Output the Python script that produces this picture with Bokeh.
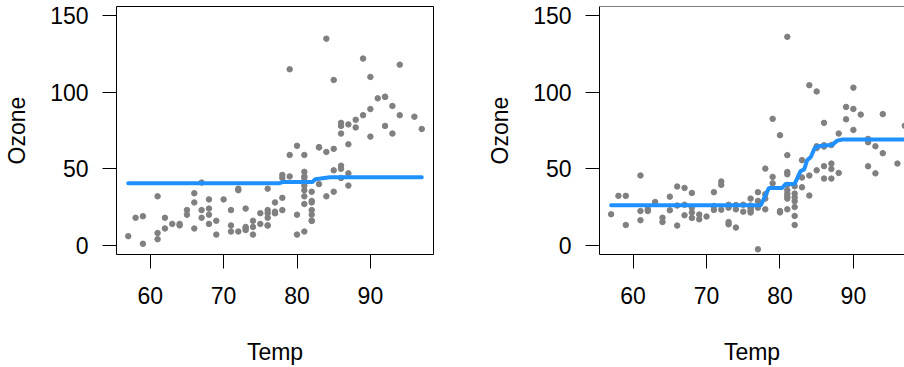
from bokeh.plotting import figure
from bokeh.layouts import row
from bokeh.models import FixedTicker, Span, Range1d
from bokeh.embed import file_html
from bokeh.resources import INLINE

# ---- left panel: observed Ozone vs Temp ----
TEMP = [67, 72, 74, 62, 66, 65, 59, 61, 74, 69, 66, 68, 58, 64, 66, 57, 68, 62, 59, 73,
        61, 61, 67, 81, 79, 76, 82, 90, 87, 82, 77, 72, 65, 73, 76, 84, 85, 81, 83, 83,
        88, 92, 92, 89, 73, 81, 80, 81, 82, 84, 87, 85, 74, 86, 85, 82, 86, 88, 86, 83,
        81, 81, 81, 82, 86, 85, 87, 89, 90, 90, 86, 82, 80, 77, 79, 76, 78, 78, 77, 72,
        79, 81, 86, 97, 94, 96, 94, 91, 92, 93, 93, 87, 84, 80, 78, 75, 73, 81, 76, 77,
        71, 71, 78, 67, 76, 68, 82, 64, 71, 81, 69, 63, 70, 75, 76, 68]
OZONE = [41, 36, 12, 18, 28, 23, 19, 8, 7, 16, 11, 14, 18, 14, 34, 6, 30, 11, 1, 11,
         4, 32, 23, 45, 115, 37, 29, 71, 39, 23, 21, 37, 20, 12, 13, 135, 49, 32, 64, 40,
         77, 97, 97, 85, 10, 27, 7, 48, 35, 61, 79, 63, 16, 80, 108, 20, 52, 82, 50, 64,
         59, 39, 9, 16, 78, 35, 66, 122, 89, 110, 44, 28, 65, 22, 59, 23, 31, 44, 21, 9,
         45, 168, 73, 76, 118, 84, 85, 96, 78, 73, 91, 47, 32, 20, 23, 21, 24, 44, 21, 28,
         9, 13, 46, 18, 13, 24, 16, 13, 23, 36, 7, 14, 30, 14, 18, 20]
FIT_A_TEMP = [57, 77.5, 78.2, 82.1, 82.5, 83.2, 84.5, 97]
FIT_A_OZONE = [40.5, 40.5, 41.4, 41.4, 43.2, 43.6, 44.5, 44.5]

# ---- right panel ----
TEMP_B = [57, 58, 59, 59, 61, 61, 61, 62, 62, 63, 64, 64, 65, 65, 66, 66, 66,
          67, 67, 67, 68, 68, 68, 68, 69, 69, 70, 71, 71, 71, 72, 72, 72,
          73, 73, 73, 73, 74, 74, 74, 75, 75, 76, 76, 76, 76, 76, 76,
          77, 77, 77, 77, 78, 78, 78, 78, 79, 79, 79, 80, 80, 80,
          81, 81, 81, 81, 81, 81, 81, 81, 81, 81,
          82, 82, 82, 82, 82, 82, 82, 83, 83, 83, 84, 84, 84,
          85, 85, 85, 85, 86, 86, 86, 86, 86, 86, 87, 87, 87, 87,
          88, 88, 89, 89, 90, 90, 90, 91, 92, 92, 92, 93, 93, 94, 94, 96, 97]
OZONE_B = [20.3, 32.3, 32.3, 13.3, 45.6, 22.4, 16.4, 23.5, 22.4, 28.3, 18.0, 15.2, 31.8, 22.9, 38.4, 26.0, 12.9,
           37.5, 19.6, 26.5, 34.2, 24.6, 21.4, 17.9, 20.1, 17.0, 18.8, 34.7, 25.7, 23.1, 41.7, 39.5, 23.3,
           24.6, 15.2, 13.7, 26.5, 23.5, 11.6, 26.3, 22.0, 26.5, 30.5, 26.0, 23.8, 21.4, 25.0, 22.5,
           34.7, 29.0, 24.6, -2.6, 50.1, 33.4, 30.5, 23.5, 82.6, 44.7, 40.5, 71.9, 22.4, 21.5,
           136.2, 58.9, 47.9, 46.4, 36.0, 33.8, 32.0, 30.5, 23.5, 39.5,
           38.6, 33.8, 31.2, 28.8, 25.0, 19.2, 13.3, 55.6, 44.3, 37.9, 104.6, 45.6, 32.5,
           100.5, 64.7, 49.0, 63.5, 80.0, 65.3, 51.7, 43.6, 64.5, 65.0, 53.4, 49.9, 43.6, 65.5,
           73.0, 47.3, 90.4, 82.3, 103.0, 89.1, 75.4, 85.4, 67.3, 51.6, 69.5, 64.7, 47.0, 85.7, 60.2, 53.4, 78.1]
FIT_B_TEMP = [57, 77.4, 78.5, 80.3, 80.8, 82.0, 82.8, 83.3, 83.7, 84.2, 84.7, 85.1, 86.0, 87.1, 87.8, 88.5, 97]
FIT_B_OZONE = [26.2, 26.2, 37.5, 37.5, 40.1, 40.1, 48.5, 49.6, 55.6, 57.7, 63.2, 64.6, 65.2, 65.6, 68.4, 69.1, 69.1]

X_TICKS = [60, 70, 80, 90]
Y_TICKS = [0, 50, 100, 150]
Y_START, Y_END = -6, 156

FONT = "Liberation Sans"
FS = "23px"
POINT_COLOR = "#808080"
LINE_COLOR = "#1E90FF"


def style(p):
    p.grid.visible = False
    p.background_fill_color = "white"
    p.border_fill_color = "white"
    for ax in (p.xaxis, p.yaxis):
        ax.minor_tick_line_color = None
        ax.major_tick_in = 0
        ax.major_tick_out = 14
        ax.major_tick_line_color = "black"
        ax.major_tick_line_width = 1
        ax.major_label_text_font = FONT
        ax.major_label_text_font_size = FS
        ax.major_label_text_color = "black"
        ax.axis_label_text_font = FONT
        ax.axis_label_text_font_size = FS
        ax.axis_label_text_font_style = "normal"
        ax.axis_label_text_color = "black"
    p.xaxis.ticker = FixedTicker(ticks=X_TICKS)
    p.yaxis.ticker = FixedTicker(ticks=Y_TICKS)
    p.xaxis.axis_label = "Temp"
    p.yaxis.axis_label = "Ozone"
    p.xaxis.major_label_standoff = 18
    p.xaxis.axis_label_standoff = 32
    p.yaxis.major_label_standoff = 14
    p.yaxis.axis_label_standoff = 17
    p.yaxis.major_label_orientation = "horizontal"


# left panel
p1 = figure(width=452, height=367, output_backend="svg", toolbar_location=None,
            x_range=Range1d(55.4, 98.6), y_range=Range1d(Y_START, Y_END),
            min_border_left=116, min_border_right=19, min_border_top=6, min_border_bottom=113)
style(p1)
p1.outline_line_color = "black"
p1.outline_line_width = 1
p1.xaxis.axis_line_color = None
p1.yaxis.axis_line_color = None
p1.scatter(TEMP, OZONE, size=5.5, color=POINT_COLOR, marker="circle")
p1.line(FIT_A_TEMP, FIT_A_OZONE, line_width=4, color=LINE_COLOR, line_cap="round")

# right panel (its right edge runs off the page)
p2 = figure(width=452, height=367, output_backend="svg", toolbar_location=None,
            x_range=Range1d(55.42, 96.96), y_range=Range1d(Y_START, Y_END),
            min_border_left=147, min_border_right=0, min_border_top=6, min_border_bottom=113)
style(p2)
p2.outline_line_color = None
p2.xaxis.axis_line_color = "black"
p2.yaxis.axis_line_color = "black"
p2.add_layout(Span(location=Y_END, dimension="width", line_color="black", line_width=1))
p2.scatter(TEMP_B, OZONE_B, size=5.5, color=POINT_COLOR, marker="circle")
p2.line(FIT_B_TEMP, FIT_B_OZONE, line_width=4, color=LINE_COLOR, line_cap="round")

layout = row(p1, p2)
open("out.html", "w").write(file_html(layout, INLINE))
